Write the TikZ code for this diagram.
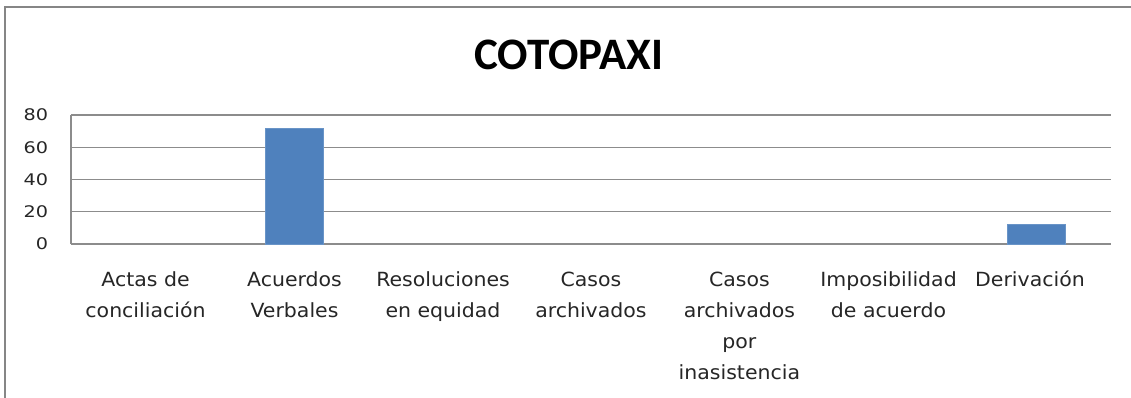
\documentclass[tikz,border=0pt]{standalone}
\usepackage{fontspec}
\setmainfont{DejaVu Sans}
\newfontfamily\labfont[FakeStretch=1.2]{DejaVu Sans}
\newfontfamily\catfont[FakeStretch=1.05]{DejaVu Sans}
\newfontfamily\titlefont{Carlito}
\definecolor{barblue}{HTML}{4F81BD}
\definecolor{gridgray}{HTML}{8C8C8C}
\definecolor{framegray}{HTML}{868686}
\definecolor{txtgray}{HTML}{262626}
\tikzset{
  gridline/.style={draw=gridgray, line width=1.4pt},
  framestyle/.style={draw=framegray, line width=1.4pt},
  barstyle/.style={fill=barblue, draw=barblue!85!white, line width=0.6pt},
  ylab/.style={anchor=east, inner sep=0pt, text=txtgray, font=\labfont\fontsize{16}{18}\selectfont},
  catlab/.style={anchor=base, inner sep=0pt, align=center, text=txtgray, font=\catfont\fontsize{19.5}{31}\selectfont},
  titlestyle/.style={inner sep=0pt, font=\titlefont\bfseries\fontsize{45}{52}\selectfont}
}
\begin{document}
\begin{tikzpicture}[x=1pt,y=-1pt]
\useasboundingbox (0,0) rectangle (1131,398);
\fill[white] (0,0) rectangle (1131,398);
% frame
\draw[framestyle] (5,398) -- (5,7) -- (1131,7);
% title
\node[titlestyle] (title) at (569,54.5) {COTOPAXI};
% gridlines
\foreach \v/\y in {80/115,60/147.25,40/179.5,20/211.75,0/244}{
  \draw[gridline] (71,\y) -- (1110.7,\y);
  \node[ylab] (y\v) at (48.3,\y) {\v};
}
\draw[gridline] (71,115) -- (71,244);
% bars
\fill[barstyle] (265.3,127.9) rectangle (323.3,244);
\fill[barstyle] (1007.4,224.6) rectangle (1065.4,244);
% category labels (anchor = baseline of the last line)
\node[catlab] (c1) at (145.5,317) {Actas de\\conciliación};
\node[catlab] (c2) at (294.5,317) {Acuerdos\\Verbales};
\node[catlab] (c3) at (443,317) {Resoluciones\\en equidad};
\node[catlab] (c4) at (590.9,317) {Casos\\archivados};
\node[catlab] (c5) at (739.4,379) {Casos\\archivados\\por\\inasistencia};
\node[catlab] (c6) at (888.5,317) {Imposibilidad\\de acuerdo};
\node[catlab] (c7) at (1030,286) {Derivación};
\end{tikzpicture}
\end{document}
